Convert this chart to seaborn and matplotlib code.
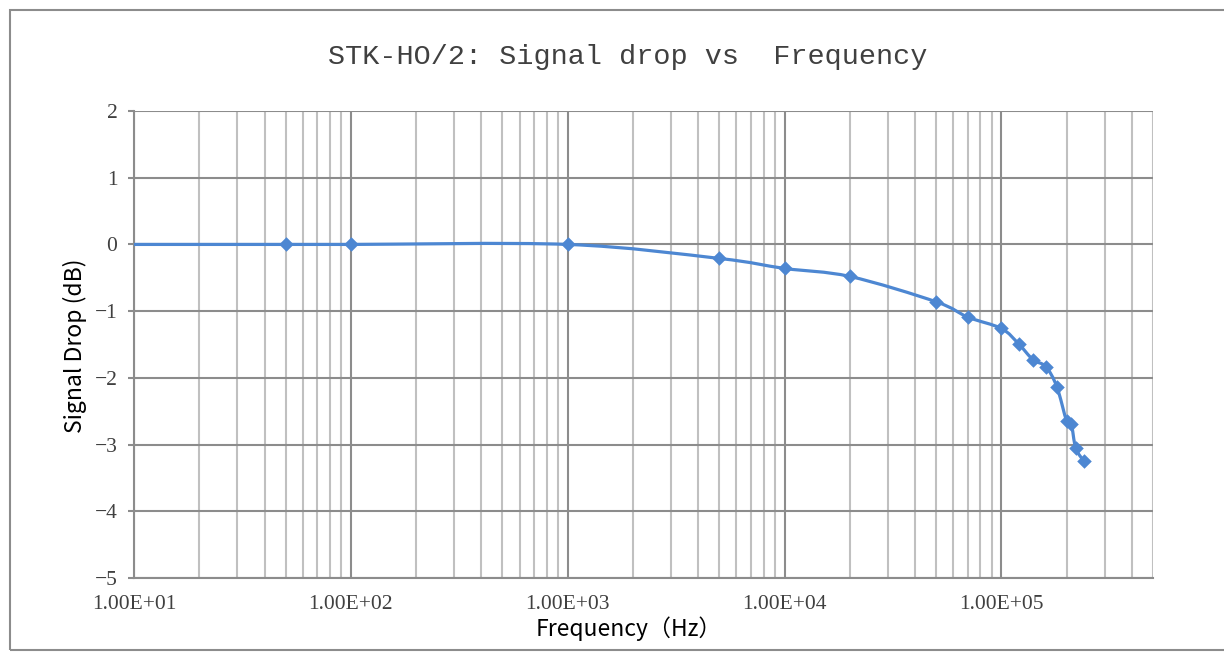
import matplotlib
matplotlib.use('Agg')
import matplotlib.pyplot as plt
import matplotlib.ticker as mticker
from matplotlib.path import Path
from matplotlib.patches import PathPatch, Rectangle
import numpy as np
import pandas as pd
import seaborn as sns

# data
freq_hz = [10, 50, 100, 1000, 5000, 10000, 20000, 50000, 70000, 100000,
           120000, 140000, 160000, 180000, 200000, 210000, 220000, 240000]
drop_db = [0.0, 0.0, 0.0, 0.0, -0.21, -0.36, -0.48, -0.86, -1.09, -1.26,
           -1.49, -1.73, -1.83, -2.13, -2.65, -2.69, -3.05, -3.25]
x_ticks = [1e1, 1e2, 1e3, 1e4, 1e5]
x_tick_labels = ['1.00E+01', '1.00E+02', '1.00E+03', '1.00E+04', '1.00E+05']
y_ticks = [2, 1, 0, -1, -2, -3, -4, -5]

df = pd.DataFrame({'freq': freq_hz, 'drop': drop_db})

sns.set_theme(style='white')
plt.rcParams['font.family'] = ['Noto Sans CJK SC', 'DejaVu Sans']
plt.rcParams['axes.unicode_minus'] = True

LINE = '#4D87D2'
MAJOR = '#8C8C8C'
MINOR = '#C0C0C0'

fig = plt.figure(figsize=(12.24, 6.53), dpi=100)
ax = fig.add_axes([134 / 1224, 1 - 578 / 653, 1019 / 1224, 467 / 653])

ax.set_xscale('log')
ax.set_xlim(10, 5e5)
ax.set_ylim(-5, 2)

# smoothed line (Excel-style): cubic bezier segments built in log-x space
lx = np.log10(df['freq'].to_numpy())
ly = df['drop'].to_numpy()
pts = np.column_stack([lx, ly])
n = len(pts)
verts = [pts[0]]
codes = [Path.MOVETO]
for i in range(n - 1):
    p0 = pts[max(i - 1, 0)]
    p1 = pts[i]
    p2 = pts[i + 1]
    p3 = pts[min(i + 2, n - 1)]
    c1 = p1 + (p2 - p0) / 6.0
    c2 = p2 - (p3 - p1) / 6.0
    verts += [c1, c2, p2]
    codes += [Path.CURVE4] * 3
verts = np.array(verts)
verts[:, 0] = 10 ** verts[:, 0]
ax.add_patch(PathPatch(Path(verts, codes), facecolor='none', edgecolor=LINE,
                       lw=2.3, zorder=3, capstyle='round', joinstyle='round'))

# markers (first point sits on the axis edge without a marker)
sns.scatterplot(data=df.iloc[1:], x='freq', y='drop', marker='D', s=55,
                color=LINE, edgecolor=LINE, linewidth=0, zorder=4, ax=ax)

# grid
ax.xaxis.set_minor_locator(mticker.LogLocator(base=10, subs=np.arange(2, 10), numticks=20))
ax.xaxis.set_minor_formatter(mticker.NullFormatter())
ax.set_xticks(x_ticks)
ax.set_xticklabels(x_tick_labels)
ax.set_yticks(y_ticks)
ax.set_yticklabels([str(v).replace('-', '\u2212') for v in y_ticks])
ax.grid(True, which='major', axis='both', color=MAJOR, lw=1.5)
ax.grid(True, which='minor', axis='x', color=MINOR, lw=1.5)
ax.set_axisbelow(True)

for side in ['top', 'right']:
    ax.spines[side].set_visible(False)
for side in ['left', 'bottom']:
    ax.spines[side].set_color(MAJOR)
    ax.spines[side].set_linewidth(1.5)

ax.tick_params(axis='y', which='major', length=4, width=1.5, color=MAJOR,
               pad=8, left=True)
ax.tick_params(axis='x', which='both', length=0, pad=12)
for lab in ax.get_xticklabels() + ax.get_yticklabels():
    lab.set_fontfamily('Liberation Serif')
    lab.set_fontsize(15.5)
    lab.set_color('#404040')

ax.set_xlabel('Frequency\uff08Hz\uff09', fontsize=16.5, color='#000000')
ax.xaxis.set_label_coords(0.486, -0.109)
ax.xaxis.label.set_va('center')
ax.set_ylabel('Signal Drop (dB)', fontsize=16.5, color='#000000')
ax.yaxis.set_label_coords(-0.058, 0.498)
ax.yaxis.label.set_va('center')

fig.text(628 / 1224, 1 - 57 / 653, 'STK-HO/2: Signal drop vs  Frequency',
         family='Liberation Mono', fontsize=20.5, color='#404040',
         ha='center', va='center')

# outer chart border
fig.add_artist(Rectangle((10 / 1224, 3 / 653), 1.2, 1 - 13 / 653,
                         transform=fig.transFigure, fill=False,
                         edgecolor='#8C8C8C', lw=1.5, clip_on=False))

fig.savefig('out.png', dpi=100, facecolor='white')
